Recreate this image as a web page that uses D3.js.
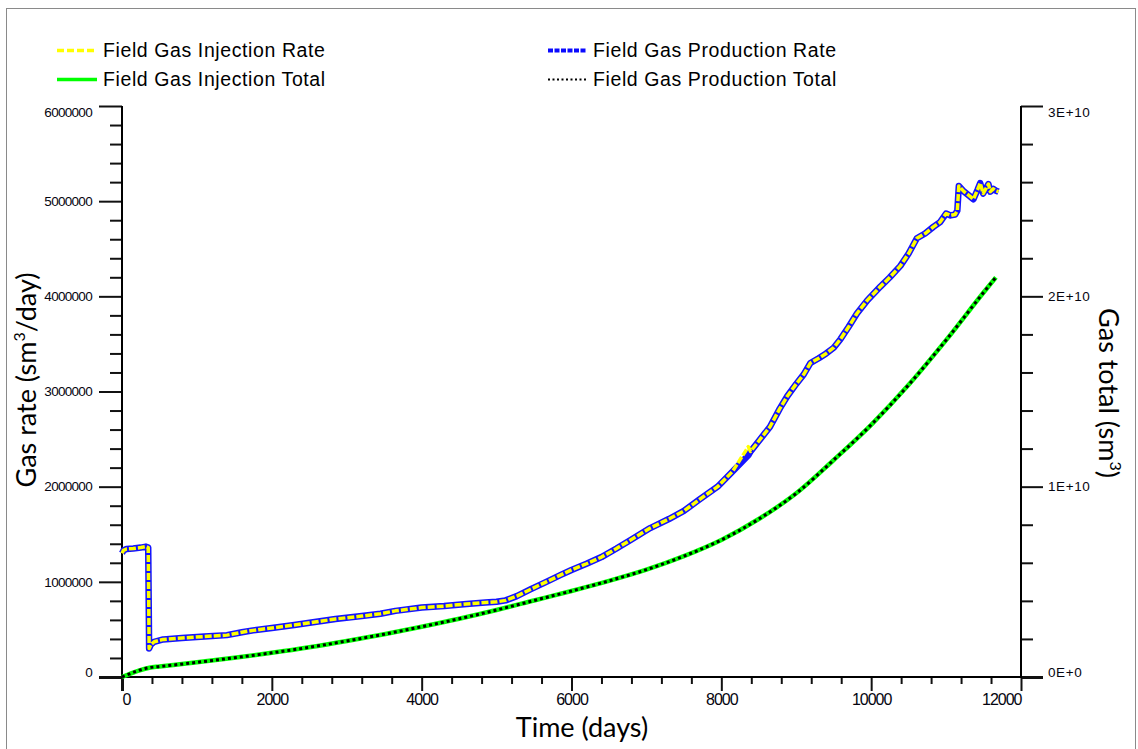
<!DOCTYPE html>
<html><head><meta charset="utf-8">
<script src="https://cdn.jsdelivr.net/npm/d3@7"></script>
<style>body{margin:0;background:#fff;} svg{display:block;}</style>
</head><body>
<svg id="chart" width="1138" height="749"></svg>
<script>
// ---------------- DATA ----------------
const rateDays = [0,20,60,150,250,320,350,362,385,430,550,800,1100,1400,1600,1750,2000,2300,2550,2850,3200,3450,3650,4000,4300,4600,4850,5000,5120,5270,5450,5650,5850,6000,6200,6400,6600,6800,7050,7300,7500,7700,7950,8150,8360,8390,8500,8650,8780,8880,9000,9100,9190,9300,9400,9500,9590,9700,9810,9950,10120,10250,10390,10500,10610,10720,10830,10920,11000,11060,11120,11150,11170,11240,11320,11365,11420,11455,11495,11530,11565,11590,11630,11665,11700];
const prodRate = [1300000,1330000,1345000,1350000,1360000,1370000,1360000,300000,340000,370000,395000,410000,425000,440000,470000,490000,515000,546000,575000,610000,640000,665000,695000,730000,745000,768000,782000,790000,805000,850000,920000,995000,1070000,1125000,1190000,1260000,1350000,1445000,1565000,1660000,1745000,1860000,2000000,2160000,2330000,2370000,2480000,2630000,2820000,2950000,3080000,3180000,3300000,3350000,3400000,3460000,3550000,3680000,3820000,3960000,4100000,4200000,4320000,4450000,4610000,4660000,4730000,4780000,4870000,4850000,4860000,4900000,5160000,5100000,5050000,5020000,5120000,5190000,5080000,5130000,5180000,5100000,5130000,5110000,5100000];
const injRate  = [1300000,1330000,1345000,1350000,1360000,1370000,1360000,300000,340000,370000,395000,410000,425000,440000,470000,490000,515000,546000,575000,610000,640000,665000,695000,730000,745000,768000,782000,790000,805000,850000,920000,995000,1070000,1125000,1190000,1260000,1350000,1445000,1565000,1660000,1745000,1860000,2000000,2160000,2420000,2370000,2480000,2630000,2820000,2950000,3080000,3180000,3300000,3350000,3400000,3460000,3550000,3680000,3820000,3960000,4100000,4200000,4320000,4450000,4610000,4660000,4730000,4780000,4870000,4850000,4860000,4900000,5160000,5100000,5050000,5020000,5120000,5190000,5080000,5130000,5180000,5100000,5130000,5110000,5100000];
const totalDays = [0,365,500,1000,1500,2000,2500,3000,3500,4000,4500,5000,5500,6000,6500,7000,7500,8000,8500,9000,9500,10000,10500,11000,11500,11665];
const prodTotal = [0,0.49e9,0.55e9,0.77e9,1.01e9,1.27e9,1.56e9,1.89e9,2.25e9,2.64e9,3.06e9,3.52e9,4.02e9,4.52e9,5.05e9,5.64e9,6.35e9,7.20e9,8.30e9,9.65e9,11.4e9,13.25e9,15.35e9,17.7e9,20.2e9,21.0e9];
const injTotal  = [0,0.49e9,0.55e9,0.77e9,1.01e9,1.27e9,1.56e9,1.89e9,2.25e9,2.64e9,3.06e9,3.52e9,4.02e9,4.52e9,5.05e9,5.64e9,6.35e9,7.20e9,8.30e9,9.65e9,11.4e9,13.25e9,15.35e9,17.7e9,20.2e9,21.0e9];
const xTicks = [0,2000,4000,6000,8000,10000,12000];
const rateTicks = [0,1000000,2000000,3000000,4000000,5000000,6000000];
const totalTicks = [0,1e10,2e10,3e10];
const totalTickLabels = ["0E+0","1E+10","2E+10","3E+10"];
const legendLabels = ["Field Gas Injection Rate","Field Gas Injection Total","Field Gas Production Rate","Field Gas Production Total"];

// ---------------- CHART ----------------
const svg = d3.select("#chart");
const x = d3.scaleLinear().domain([0,12000]).range([122,1021]);
const yL = d3.scaleLinear().domain([0,6000000]).range([677,106]);
const yR = d3.scaleLinear().domain([0,3e10]).range([677,106]);
const tickFont = "'Liberation Sans', Arial, sans-serif";
const titleFont = "Lato, 'Open Sans', sans-serif";

// frame
svg.append("rect").attr("x",6.5).attr("y",8.5).attr("width",1129).attr("height",760)
  .attr("fill","none").attr("stroke","#8a8a8a").attr("stroke-width",1);

// minor ticks
function minorAxis(axisFn, scale, values, size){
  return axisFn(scale).tickValues(values).tickSize(size).tickFormat("");
}
const xMinor = d3.range(0,12001,400).filter(d=>d%2000!==0);
const lMinor = d3.range(0,6000001,200000).filter(d=>d%1000000!==0);
const rMinor = d3.range(0,3e10+1,2e9).filter(d=>Math.round(d/2e9)%5!==0);

svg.append("g").attr("transform","translate(0,677)").call(minorAxis(d3.axisBottom,x,xMinor,7));
svg.append("g").attr("transform","translate(122,0)").call(minorAxis(d3.axisLeft,yL,lMinor,12));
svg.append("g").attr("transform","translate(1021,0)").call(minorAxis(d3.axisRight,yR,rMinor,12));

// major axes
const gx = svg.append("g").attr("transform","translate(0,677)")
  .call(d3.axisBottom(x).tickValues(xTicks).tickSize(14).tickPadding(3).tickFormat(d3.format("d")));
const gl = svg.append("g").attr("transform","translate(122,0)")
  .call(d3.axisLeft(yL).tickValues(rateTicks).tickSize(23).tickPadding(7).tickFormat(d3.format("d")));
const gr = svg.append("g").attr("transform","translate(1021,0)")
  .call(d3.axisRight(yR).tickValues(totalTicks).tickSize(22).tickPadding(5).tickFormat((d,i)=>totalTickLabels[i]));

svg.selectAll(".domain").remove();
svg.selectAll(".tick line").attr("stroke","#111").attr("stroke-width",2);
svg.selectAll(".tick text").attr("fill","#05050f").style("font-family",tickFont);
gx.selectAll("text").style("font-size","16px").style("letter-spacing","-1px");
gl.selectAll("text").style("font-size","13.5px").style("letter-spacing","-0.7px");
gr.selectAll("text").style("font-size","13.5px").style("letter-spacing","0.6px");
// clamp end labels like the original
gx.selectAll("text").filter(d=>d===0).attr("text-anchor","start");
gx.selectAll("text").filter(d=>d===12000).attr("text-anchor","end");
gl.selectAll("text").filter(d=>d===6000000).attr("dy","0.75em");
gl.selectAll("text").filter(d=>d===0).attr("dy","-0.05em");
gr.selectAll("text").filter(d=>d===3e10).attr("dy","0.75em");
gr.selectAll("text").filter(d=>d===0).attr("dy","-0.05em");
// thicker zero ticks
gx.selectAll(".tick line").filter(d=>d===0).attr("stroke-width",3);
gl.selectAll(".tick line").filter(d=>d===0).attr("stroke-width",3);
gr.selectAll(".tick line").filter(d=>d===0).attr("stroke-width",3);

// axis lines
const axisG = svg.append("g").attr("stroke","#000").attr("stroke-width",2);
axisG.append("line").attr("x1",x(0)).attr("x2",x(12000)).attr("y1",yL(0)).attr("y2",yL(0));
axisG.append("line").attr("x1",x(0)).attr("x2",x(0)).attr("y1",yL(6000000)).attr("y2",yL(0)+1);
axisG.append("line").attr("x1",x(12000)).attr("x2",x(12000)).attr("y1",yR(3e10)).attr("y2",yR(0)+1);

// lines
const lineRate = d3.line().x((d,i)=>x(rateDays[i])).curve(d3.curveLinear);
const lineTot = d3.line().x((d,i)=>x(totalDays[i])).curve(d3.curveMonotoneX);

svg.append("path").datum(injTotal).attr("fill","none").attr("stroke","#00ff00").attr("stroke-width",4.5)
  .attr("d", lineTot.y(d=>yR(d)));
svg.append("path").datum(prodTotal).attr("fill","none").attr("stroke","#000").attr("stroke-width",3)
  .attr("stroke-dasharray","3,3").attr("d", lineTot.y(d=>yR(d)));
svg.append("path").datum(prodRate).attr("fill","none").attr("stroke","#1414ff").attr("stroke-width",6.5)
  .attr("stroke-linejoin","round").attr("d", lineRate.y(d=>yL(d)));
svg.append("path").datum(injRate).attr("fill","none").attr("stroke","#ffff00").attr("stroke-width",3.5)
  .attr("stroke-dasharray","7,2").attr("stroke-linejoin","round").attr("d", lineRate.y(d=>yL(d)));

// legend
const legendItems = [
  {label:legendLabels[0], x1:57, x2:97, y:50.5, color:"#ffff00", w:3.5, dash:"7,3"},
  {label:legendLabels[1], x1:57, x2:97, y:79.5, color:"#00ff00", w:3.5, dash:null},
  {label:legendLabels[2], x1:548, x2:587, y:50.5, color:"#0a0aff", w:4, dash:"5,1.5"},
  {label:legendLabels[3], x1:548, x2:587, y:79.5, color:"#000", w:2, dash:"2,2.5"}
];
const lg = svg.append("g");
legendItems.forEach(it=>{
  const l = lg.append("line").attr("x1",it.x1).attr("x2",it.x2).attr("y1",it.y).attr("y2",it.y)
    .attr("stroke",it.color).attr("stroke-width",it.w);
  if(it.dash) l.attr("stroke-dasharray",it.dash);
  lg.append("text").attr("x",it.x2+6).attr("y",it.y+6.8).text(it.label)
    .style("font-family",tickFont).style("font-size","19.5px").style("letter-spacing","0.6px").attr("fill","#000");
});

// axis titles
svg.append("text").attr("x",582).attr("y",737).attr("text-anchor","middle")
  .style("font-family",titleFont).style("font-size","27px").attr("fill","#000").text("Time (days)");

const tl = svg.append("text").attr("transform","translate(36,380) rotate(-90)").attr("text-anchor","middle")
  .style("font-family",titleFont).style("font-size","27px").attr("fill","#000");
tl.append("tspan").text("Gas rate (sm");
tl.append("tspan").attr("dy",-11).style("font-size","16px").text("3");
tl.append("tspan").attr("dy",11).text("/day)");

const tr = svg.append("text").attr("transform","translate(1099,393) rotate(90)").attr("text-anchor","middle")
  .style("font-family",titleFont).style("font-size","27px").attr("fill","#000");
tr.append("tspan").text("Gas total (sm");
tr.append("tspan").attr("dy",-11).style("font-size","16px").text("3");
tr.append("tspan").attr("dy",11).text(")");
</script>
</body></html>
